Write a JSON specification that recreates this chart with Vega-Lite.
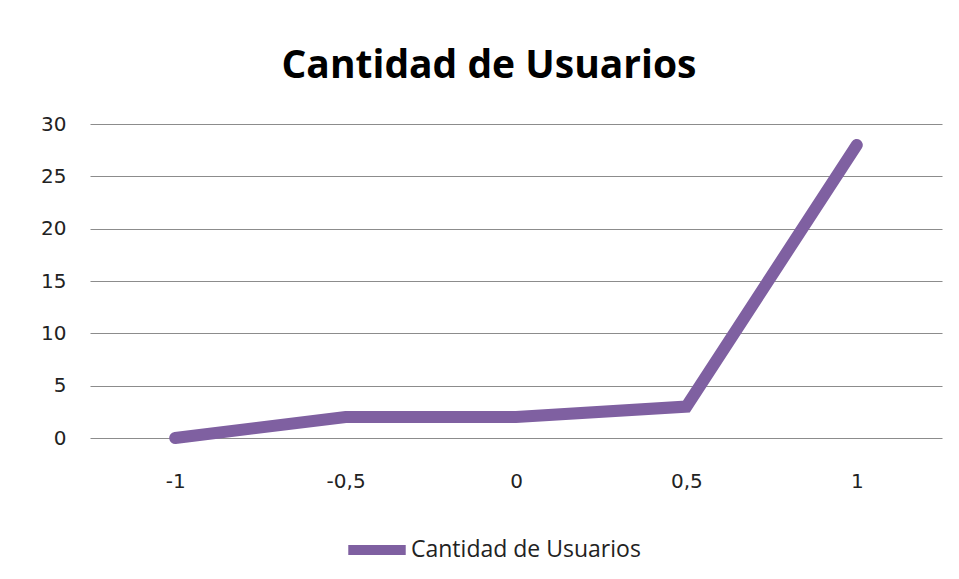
{
  "$schema": "https://vega.github.io/schema/vega-lite/v6.json",
  "autosize": "none",
  "width": 852,
  "height": 314,
  "padding": {"left": 90, "top": 124, "right": 17, "bottom": 141},
  "background": "white",
  "title": {
    "text": "Cantidad de Usuarios",
    "font": "Open Sans",
    "fontSize": 39,
    "fontWeight": "bold",
    "color": "#000000",
    "anchor": "middle",
    "dx": -27,
    "baseline": "alphabetic",
    "offset": -3
  },
  "data": {
    "values": [
      {"x": "-1", "serie": "Cantidad de Usuarios", "y": 0},
      {"x": "-0,5", "serie": "Cantidad de Usuarios", "y": 2},
      {"x": "0", "serie": "Cantidad de Usuarios", "y": 2},
      {"x": "0,5", "serie": "Cantidad de Usuarios", "y": 3},
      {"x": "1", "serie": "Cantidad de Usuarios", "y": 28}
    ]
  },
  "mark": {"type": "line", "strokeWidth": 12, "strokeCap": "round", "strokeJoin": "miter"},
  "encoding": {
    "x": {
      "field": "x",
      "type": "ordinal",
      "sort": ["-1", "-0,5", "0", "0,5", "1"],
      "scale": {"type": "point", "padding": 0.5},
      "axis": {
        "title": null,
        "labelAngle": 0,
        "labelFont": "DejaVu Sans",
        "labelFontSize": 20,
        "labelColor": "#222222",
        "labelPadding": 33,
        "ticks": false,
        "domain": false,
        "grid": false
      }
    },
    "y": {
      "field": "y",
      "type": "quantitative",
      "scale": {"domain": [0, 30], "nice": false},
      "axis": {
        "title": null,
        "values": [0, 5, 10, 15, 20, 25, 30],
        "labelFont": "DejaVu Sans",
        "labelFontSize": 20,
        "labelColor": "#222222",
        "labelPadding": 24,
        "ticks": false,
        "domain": false,
        "grid": true,
        "gridColor": "#8c8c8c",
        "gridWidth": 1.2
      }
    },
    "color": {
      "field": "serie",
      "type": "nominal",
      "scale": {"range": ["#7F60A1"]},
      "legend": {
        "title": null,
        "orient": "none",
        "legendX": 253,
        "legendY": 392,
        "symbolType": "stroke",
        "symbolSize": 3300,
        "symbolStrokeWidth": 10,
        "labelFont": "Open Sans",
        "labelFontSize": 23,
        "labelColor": "#222222",
        "labelOffset": 0,
        "labelLimit": 0
      }
    }
  },
  "config": {"view": {"stroke": null}}
}
